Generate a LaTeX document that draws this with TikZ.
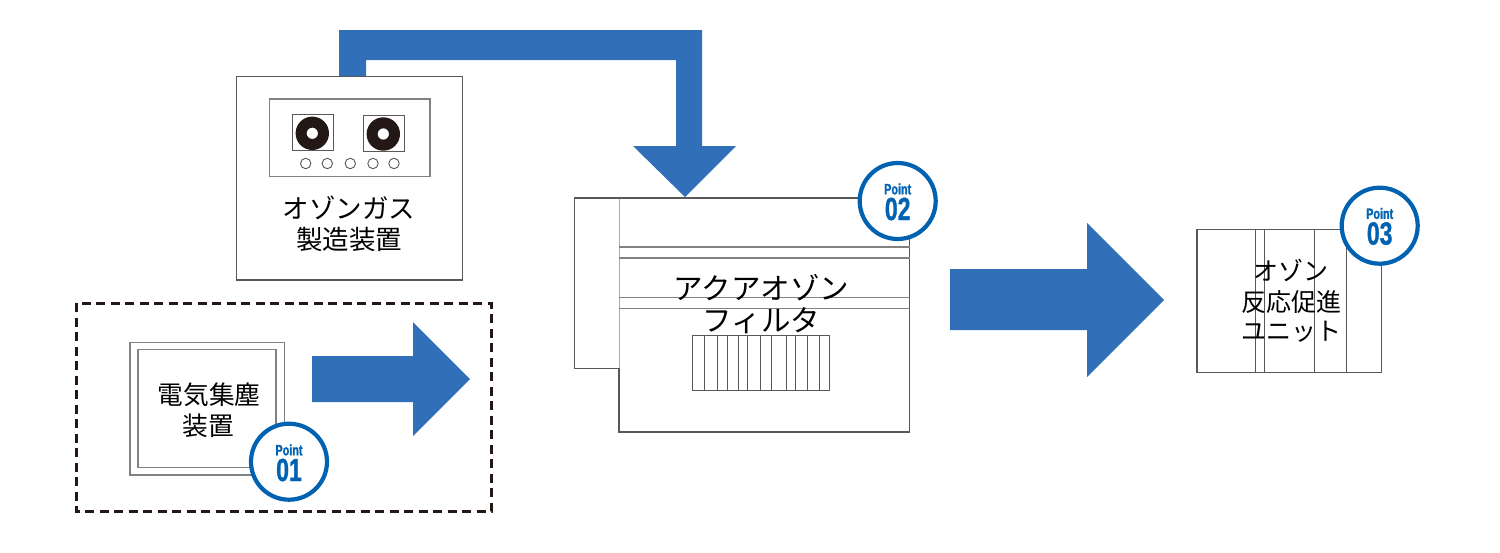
\documentclass[tikz,border=0pt]{standalone}
\usepackage{fontspec}
\setmainfont{Noto Sans CJK JP}
\newfontfamily\pointfont{Liberation Sans}[BoldFont={Liberation Sans Bold},BoldFeatures={FakeBold=1.2}]
\definecolor{arrowblue}{HTML}{3170B8}
\definecolor{pointblue}{HTML}{0062B1}
\definecolor{inkdark}{HTML}{231815}
\definecolor{linedark}{HTML}{595757}
\tikzset{
  blockarrow/.style={fill=arrowblue,draw=none},
  boxline/.style={draw=linedark,line width=1.1pt,fill=white},
  greyline/.style={draw=linedark!75,line width=1.3pt},
  wheel/.style={fill=inkdark,draw=none},
  label/.style={inner sep=0pt,text=black},
  badge/.style={circle,draw=pointblue,line width=4.2pt,fill=white,minimum size=76pt,inner sep=0pt},
  badgetext/.style={inner sep=0pt,text=pointblue,font=\pointfont\bfseries},
}
\newcommand{\pointword}{\fontsize{15}{15}\selectfont\scalebox{0.72}[1]{Point}}
\newcommand{\pointnum}[1]{\fontsize{32}{32}\selectfont\scalebox{0.72}[1]{#1}}
\begin{document}
\begin{tikzpicture}[x=1pt,y=-1pt]
\useasboundingbox (0,0) rectangle (1500,552);
% top bent arrow (stem goes behind the machine box)
\fill[blockarrow] (339,78) -- (339,30) -- (702,30) -- (702,146) -- (736,146) -- (685,197) -- (633,146) -- (676,146) -- (676,60) -- (366,60) -- (366,78) -- cycle;
% ozone generator
\draw[boxline] (236.5,76.5) rectangle (462.5,280);
\draw[greyline] (269.5,99) rectangle (430,176.7);
\draw[draw=linedark,line width=1pt] (292.3,114.7) rectangle (333.7,150.7);
\draw[draw=linedark,line width=1pt] (363,115.3) rectangle (404.3,151.3);
\fill[wheel,even odd rule] (312.3,133.3) circle (16.7) (312.3,133.3) circle (5.7);
\fill[wheel,even odd rule] (383.3,134) circle (16.7) (383.3,134) circle (5.7);
\foreach \cx in {305.7,327.3,350.3,373,394}
  \draw[draw=linedark,line width=.9pt] (\cx,163.5) circle (5.2);
\node[label,font=\fontsize{26.5}{26}\selectfont] (gen1) at (349,208) {オゾンガス};
\node[label,font=\fontsize{26.5}{26}\selectfont] (gen2) at (349,239.5) {製造装置};
% dust collector area
\draw[draw=inkdark,line width=3pt,dash pattern=on 9pt off 5.5pt] (76,303) rectangle (491,511.5);
\draw[greyline] (130,342.3) rectangle (284.3,475);
\draw[greyline] (138,349.3) rectangle (276,467.7);
\node[label,font=\fontsize{25.7}{26}\selectfont] (dust1) at (209,394.5) {電気集塵};
\node[label,font=\fontsize{25.7}{26}\selectfont] (dust2) at (208.5,426) {装置};
\fill[blockarrow] (312,356) -- (413,356) -- (413,322) -- (470,379) -- (413,436) -- (413,402) -- (312,402) -- cycle;
% aqua ozone filter
\draw[boxline] (574.5,198) -- (619,198) -- (619,368.5) -- (574.5,368.5) -- cycle;
\draw[boxline] (619,198) rectangle (909.5,432);
\draw[draw=white,line width=1.4pt] (619,198.6) -- (619,368);
\draw[draw=linedark!50,line width=1pt] (619,198.6) -- (619,368);
\foreach \ly in {247,258,297.5,308.5}
  \draw[greyline] (619,\ly) -- (909.5,\ly);
\draw[draw=linedark,line width=1pt] (692.5,335.5) rectangle (829,390);
\foreach \lx in {704.3,717.3,727.3,738,747.7,760,771.7,786,795.3,807.7,819.7}
  \draw[draw=linedark,line width=.9pt] (\lx,335.5) -- (\lx,390);
\node[label,font=\fontsize{29.5}{29}\selectfont] (filter1) at (761.5,288) {アクアオゾン};
\node[label,font=\fontsize{29.5}{29}\selectfont] (filter2) at (761.5,321) {フィルタ};
\fill[blockarrow] (950,269) -- (1087,269) -- (1087,223) -- (1164,300) -- (1087,377) -- (1087,330) -- (950,330) -- cycle;
% reaction unit
\draw[boxline] (1197,229.5) rectangle (1381.5,372.5);
\foreach \ux in {1255.3,1264.3,1314.3,1346.7}
  \draw[draw=linedark,line width=1pt] (\ux,229.5) -- (\ux,372.5);
\node[label,font=\fontsize{25}{25}\selectfont] (unit1) at (1291,270) {オゾン};
\node[label,font=\fontsize{25}{25}\selectfont] (unit2) at (1291,302) {反応促進};
\node[label,font=\fontsize{25}{25}\selectfont] (unit3) at (1291,332) {ユニット};
% point badges
\node[badge] (p1) at (289,461.7) {};
\node[badgetext] (p1a) at (289,450) {\pointword};
\node[badgetext] (p1b) at (289,470) {\pointnum{01}};
\node[badge] (p2) at (897.7,201) {};
\node[badgetext] (p2a) at (897.7,189) {\pointword};
\node[badgetext] (p2b) at (897.7,209) {\pointnum{02}};
\node[badge] (p3) at (1379.7,225.7) {};
\node[badgetext] (p3a) at (1379.7,213.5) {\pointword};
\node[badgetext] (p3b) at (1379.7,233.5) {\pointnum{03}};
\end{tikzpicture}
\end{document}
